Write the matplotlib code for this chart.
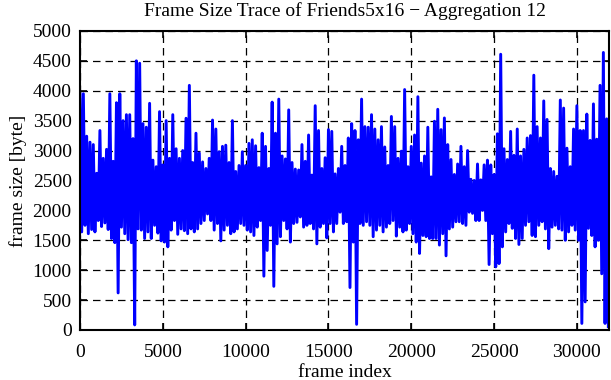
import numpy as np
import matplotlib
matplotlib.use("Agg")
import matplotlib.pyplot as plt

# Trace: per 200-frame bin, the peak and the dip (byte)
BIN = 200
peak_size = [
    3950, 3950, 3240, 3140, 3100, 2620, 3335, 2870, 3020, 3950,
    2820, 3800, 3950, 3500, 3600, 3600, 3200, 4500, 4460, 3450,
    3390, 3790, 2840, 2730, 3650, 2760, 3500, 2870, 3600, 3030,
    2870, 3000, 3540, 4090, 2800, 3290, 2960, 2810, 2700, 2870,
    3510, 3360, 2980, 3070, 3090, 2800, 3500, 2650, 2750, 2980,
    2750, 3120, 3180, 3080, 2715, 3290, 3070, 2700, 3810, 3290,
    3860, 2910, 2860, 3680, 2800, 2690, 2675, 3100, 2820, 3260,
    2590, 3750, 3335, 2700, 2880, 3350, 3320, 2610, 2700, 3070,
    2750, 3210, 3450, 3335, 3180, 3860, 3400, 3390, 3600, 3360,
    3180, 3400, 3060, 2750, 3570, 3400, 2870, 2990, 4020, 2730,
    3070, 3260, 3900, 2790, 2910, 3390, 2560, 3490, 3690, 3350,
    3545, 3100, 2850, 2600, 2775, 3070, 2730, 3000, 2520, 2500,
    2775, 2510, 2760, 2840, 2760, 2600, 3280, 4610, 3030, 2850,
    3320, 2920, 3360, 2910, 3020, 3210, 3250, 4260, 3400, 3210,
    3830, 3520, 2700, 2650, 2570, 3845, 3710, 3040, 2730, 3360,
    3750, 3335, 3335, 3610, 3170, 3780, 3190, 4090, 4640, 3530,
]
dip_size = [
    1640, 1750, 1610, 1680, 1640, 1830, 1730, 1790, 1680, 1530,
    1460, 620, 1720, 1610, 1510, 1460, 85, 1690, 1670, 1530,
    1640, 1530, 1750, 1620, 1490, 1470, 1390, 1670, 1830, 1600,
    1690, 1660, 1610, 1690, 1640, 1690, 1780, 1830, 1940, 1830,
    1670, 1780, 1490, 1670, 1750, 1610, 1640, 1690, 1780, 1750,
    1670, 1640, 1580, 1720, 1830, 900, 1330, 1750, 730, 1440,
    1560, 1830, 1690, 1470, 1780, 1800, 1890, 1720, 1750, 1780,
    1690, 1440, 1720, 1780, 1540, 1780, 1640, 1780, 1970, 1780,
    1810, 710, 1470, 95, 1780, 1750, 1810, 1750, 1560, 1670,
    1750, 1640, 1720, 1780, 1830, 1570, 1720, 1640, 1670, 1780,
    1610, 1470, 1280, 1580, 1560, 1530, 1530, 1530, 1420, 1610,
    1240, 1690, 1720, 1810, 1810, 1780, 1750, 1970, 1950, 1830,
    1830, 2000, 1830, 1095, 1610, 1055, 1110, 1390, 1640, 1780,
    1700, 1530, 1430, 1530, 1750, 1810, 1580, 1560, 1750, 1810,
    1690, 1360, 1720, 1750, 1690, 1670, 1500, 1640, 1750, 1670,
    1500, 110, 470, 1700, 1580, 1390, 1500, 940, 110, 55,
]

size = np.column_stack([peak_size, dip_size]).ravel()
frame = np.arange(len(size)) * (BIN / 2)

plt.rcParams['font.family'] = ['Liberation Serif', 'DejaVu Serif']
plt.rcParams['font.size'] = 14

fig = plt.figure(figsize=(6.11, 3.8), dpi=100)
ax = fig.add_axes([0.131, 0.1316, 0.866, 0.787])

ax.plot(frame, size, color='#0000ff', lw=2.1)

ax.set_xlim(0, 31950)
ax.set_ylim(0, 5000)
ax.set_xticks(np.arange(0, 30001, 5000))
ax.set_yticks(np.arange(0, 5001, 500))
ax.grid(True, color='black', linestyle=(0, (6, 4)), lw=0.9)
ax.tick_params(direction='in', top=True, right=True, length=5, width=1.2,
               labelsize=14)
ax.tick_params(axis='x', pad=10)
ax.tick_params(axis='y', pad=6)
for s in ax.spines.values():
    s.set_linewidth(1.5)

ax.set_title("Frame Size Trace of Friends5x16 \u2212 Aggregation 12",
             fontsize=14, pad=11)
ax.set_xlabel("frame index", labelpad=2)
ax.set_ylabel("frame size [byte]", labelpad=4)

fig.savefig("out.png", dpi=100)
